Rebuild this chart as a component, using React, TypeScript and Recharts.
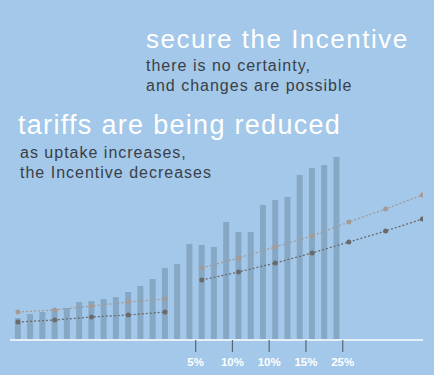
import { Bar, ComposedChart, Line, XAxis, YAxis } from 'recharts'

// uptake bars, one per period
const barValues = [
  22, 26, 28, 31, 32, 38, 39, 41, 43, 48, 54, 61, 72, 76, 96, 95, 93, 118, 108, 108, 135, 140,
  143, 165, 172, 175, 183,
]
const periodCount = 34

// incentive lines: old scheme, then new scheme
const earlyIdx = [0, 3, 6, 9, 12]
const earlyLow = [18, 20, 23, 25, 28]
const earlyHigh = [28, 30, 34, 38, 41]
const lateIdx = [15, 18, 21, 24, 27, 30, 33]
const lateLow = [60, 68, 77, 87, 98, 109, 121]
const lateHigh = [72, 82, 93, 104, 118, 131, 145]

const tickPositions = [14.5, 17.5, 20.5, 23.5, 26.5]
const tickLabels = ['5%', '10%', '10%', '15%', '25%']

const pick = (idx: number[], vals: number[], i: number) => {
  const k = idx.indexOf(i)
  return k >= 0 ? vals[k] : null
}

const data = Array.from({ length: periodCount }, (_, i) => ({
  i,
  bar: i < barValues.length ? barValues[i] : null,
  earlyLow: pick(earlyIdx, earlyLow, i),
  earlyHigh: pick(earlyIdx, earlyHigh, i),
  lateLow: pick(lateIdx, lateLow, i),
  lateHigh: pick(lateIdx, lateHigh, i),
}))

const BG = '#a3c8e9'
const BAR = '#87a8c5'
const LOW = '#6b6a6b'
const HIGH = '#a49b98'
const DARK_TEXT = '#3a3f48'
const FONT = '"Liberation Sans", Arial, sans-serif'

const lineProps = (color: string) => ({
  type: 'linear' as const,
  stroke: color,
  strokeWidth: 1.3,
  strokeDasharray: '2 2',
  dot: { r: 2.5, fill: color, stroke: 'none' },
  activeDot: false as const,
  connectNulls: true,
  isAnimationActive: false,
})

export default function App() {
  return (
    <div
      style={{
        position: 'absolute',
        left: 0,
        top: 0,
        width: 434,
        height: 375,
        background: BG,
        overflow: 'hidden',
      }}
    >
      <ComposedChart
        width={434}
        height={375}
        data={data}
        margin={{ top: 140, right: 11, bottom: 5, left: 10 }}
      >
        <XAxis
          dataKey="i"
          type="number"
          domain={[-0.65, 33.05]}
          allowDataOverflow
          ticks={tickPositions}
          tickFormatter={(v: number) => tickLabels[tickPositions.indexOf(v)] ?? ''}
          height={30}
          axisLine={{ stroke: '#e4eff8', strokeWidth: 2 }}
          tickLine={{ stroke: '#5a6570', strokeWidth: 1.2 }}
          tickSize={12}
          tickMargin={6}
          tick={{ fill: '#ffffff', fontSize: 11.5, fontWeight: 'bold', fontFamily: FONT }}
        />
        <YAxis hide width={0} domain={[0, 200]} />
        <Bar dataKey="bar" fill={BAR} barSize={6} isAnimationActive={false} />
        <Line dataKey="earlyHigh" {...lineProps(HIGH)} />
        <Line dataKey="earlyLow" {...lineProps(LOW)} />
        <Line dataKey="lateHigh" {...lineProps(HIGH)} />
        <Line dataKey="lateLow" {...lineProps(LOW)} />
      </ComposedChart>
      <svg
        width={434}
        height={375}
        style={{ position: 'absolute', left: 0, top: 0, pointerEvents: 'none' }}
      >
        <g fontFamily={FONT}>
          <text x={146} y={47.5} fontSize={26} fill="#ffffff" letterSpacing={1.5}>
            secure the Incentive
          </text>
          <text x={146} y={70.5} fontSize={16} fill={DARK_TEXT} letterSpacing={1}>
            there is no certainty,
          </text>
          <text x={146} y={91} fontSize={16} fill={DARK_TEXT} letterSpacing={1}>
            and changes are possible
          </text>
          <text x={18} y={134} fontSize={27} fill="#ffffff" letterSpacing={1.3}>
            tariffs are being reduced
          </text>
          <text x={20} y={158} fontSize={16} fill={DARK_TEXT} letterSpacing={1}>
            as uptake increases,
          </text>
          <text x={20} y={178} fontSize={16} fill={DARK_TEXT} letterSpacing={1}>
            the Incentive decreases
          </text>
        </g>
      </svg>
    </div>
  )
}
